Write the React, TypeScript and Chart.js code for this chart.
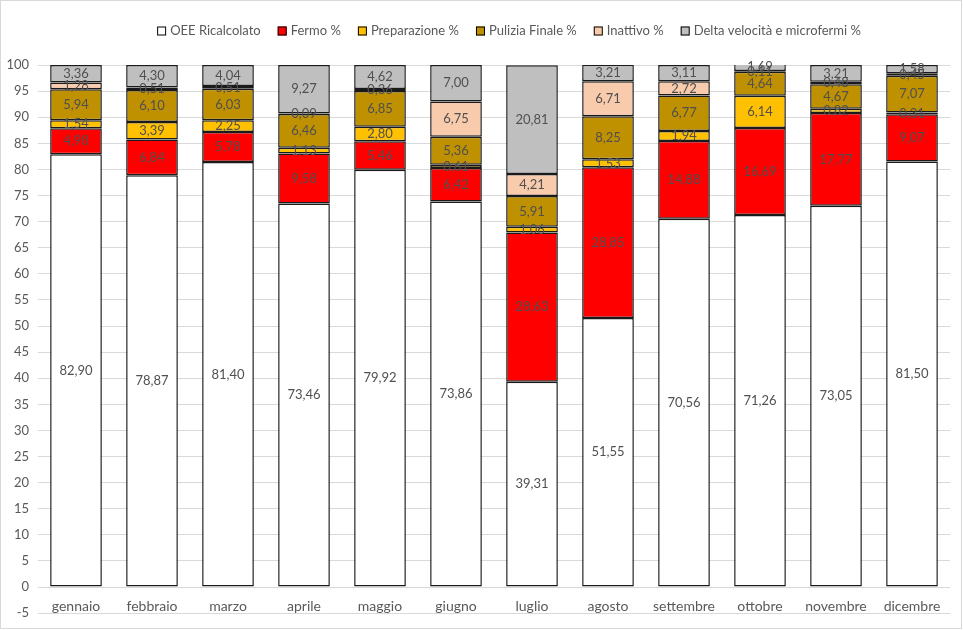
import React, { useEffect, useRef } from "react";
import { Chart, registerables } from "chart.js";

Chart.register(...registerables);

const months = ["gennaio", "febbraio", "marzo", "aprile", "maggio", "giugno", "luglio", "agosto", "settembre", "ottobre", "novembre", "dicembre"];
const oee = [82.90, 78.87, 81.40, 73.46, 79.92, 73.86, 39.31, 51.55, 70.56, 71.26, 73.05, 81.50];
const fermo = [4.98, 6.84, 5.78, 9.58, 5.46, 6.42, 28.63, 28.85, 14.88, 16.69, 17.77, 9.07];
const preparazione = [1.54, 3.39, 2.25, 1.13, 2.80, 0.61, 1.06, 1.53, 1.94, 6.14, 0.82, 0.31];
const pulizia = [5.94, 6.10, 6.03, 6.46, 6.85, 5.36, 5.91, 8.25, 6.77, 4.64, 4.67, 7.07];
const inattivo = [1.28, 0.51, 0.51, 0.09, 0.36, 6.75, 4.21, 6.71, 2.72, 0.11, 0.48, 0.45];
const delta = [3.36, 4.30, 4.04, 9.27, 4.62, 7.00, 20.81, 3.21, 3.11, 1.69, 3.21, 1.58];

const seriesNames = ["OEE Ricalcolato", "Fermo %", "Preparazione %", "Pulizia Finale %", "Inattivo %", "Delta velocità e microfermi %"];
const seriesColors = ["#FFFFFF", "#FF0000", "#FFC000", "#BF9000", "#F8CBAD", "#BFBFBF"];
const seriesData = [oee, fermo, preparazione, pulizia, inattivo, delta];

const FONT = "Lato, 'Liberation Sans', sans-serif";

const fmt = (v: number) => v.toFixed(2).replace(".", ",");

const customPlugin = {
  id: "custom",
  afterDatasetsDraw(chart: any) {
    const ctx = chart.ctx;
    ctx.save();
    ctx.font = `13px ${FONT}`;
    ctx.fillStyle = "#505050";
    ctx.textAlign = "center";
    ctx.textBaseline = "middle";
    chart.data.datasets.forEach((ds: any, di: number) => {
      const meta = chart.getDatasetMeta(di);
      meta.data.forEach((el: any, i: number) => {
        const p = el.getProps(["x", "y", "base"], true);
        const cy = (p.y + p.base) / 2;
        ctx.fillText(fmt(ds.data[i]), p.x, cy);
      });
    });
    ctx.restore();
  },
  afterDraw(chart: any) {
    const ctx = chart.ctx;
    const xs = chart.scales.x;
    const ys = chart.scales.y;
    ctx.save();
    // category labels
    ctx.font = `14px ${FONT}`;
    ctx.fillStyle = "#595959";
    ctx.textAlign = "center";
    ctx.textBaseline = "middle";
    const ly = ys.getPixelForValue(0) + 19;
    months.forEach((m, i) => {
      ctx.fillText(m, xs.getPixelForValue(i), ly);
    });
    // legend
    ctx.font = `13px ${FONT}`;
    const box = 9;
    const boxGap = 4;
    const itemGap = 17;
    const widths = seriesNames.map((n) => box + boxGap + ctx.measureText(n).width);
    const total = widths.reduce((a, b) => a + b, 0) + itemGap * (widths.length - 1);
    let x = 509 - total / 2;
    const y = 31;
    ctx.textAlign = "left";
    seriesNames.forEach((n, i) => {
      ctx.fillStyle = seriesColors[i];
      ctx.fillRect(x, y - box / 2, box, box);
      ctx.strokeStyle = "#000000";
      ctx.lineWidth = 1;
      ctx.strokeRect(x + 0.5, y - box / 2 + 0.5, box - 1, box - 1);
      ctx.fillStyle = "#595959";
      ctx.fillText(n, x + box + boxGap, y);
      x += widths[i] + itemGap;
    });
    // outer border
    ctx.strokeStyle = "#D9D9D9";
    ctx.lineWidth = 1;
    ctx.strokeRect(0.5, 0.5, 961, 628);
    ctx.restore();
  },
};

export default function App() {
  const ref = useRef<HTMLCanvasElement | null>(null);
  useEffect(() => {
    if (!ref.current) return;
    const chart = new Chart(ref.current, {
      type: "bar",
      data: {
        labels: months,
        datasets: seriesNames.map((name, i) => ({
          label: name,
          data: seriesData[i],
          backgroundColor: seriesColors[i],
          borderColor: "#1A1A1A",
          borderWidth: 1.5,
          borderSkipped: false,
          barPercentage: 0.68,
          categoryPercentage: 1,
        })),
      },
      options: {
        responsive: false,
        animation: false,
        layout: { padding: { top: 65, right: 13, bottom: 14, left: 0 } },
        plugins: {
          legend: { display: false },
          tooltip: { enabled: false },
        },
        scales: {
          x: {
            stacked: true,
            display: false,
          },
          y: {
            stacked: true,
            min: -5,
            max: 100,
            afterFit: (scale: any) => {
              scale.width = 38;
            },
            ticks: {
              stepSize: 5,
              padding: 9,
              color: "#595959",
              font: { family: FONT, size: 13 },
            },
            grid: {
              color: "#D9D9D9",
              drawTicks: false,
            },
            border: { display: false },
          },
        },
      },
      plugins: [customPlugin],
    });
    return () => chart.destroy();
  }, []);
  return (
    <div style={{ position: "fixed", left: 0, top: 0, width: 963, height: 630, background: "#FFFFFF" }}>
      <canvas ref={ref} width={963} height={630} style={{ display: "block" }} />
    </div>
  );
}
